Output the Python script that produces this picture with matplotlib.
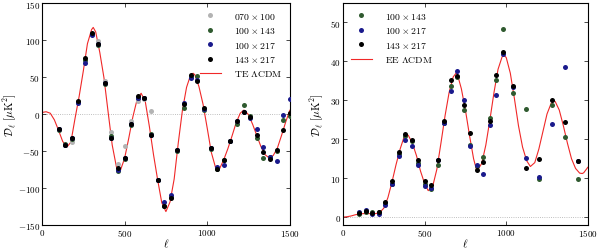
import matplotlib
matplotlib.use("Agg")
import matplotlib.pyplot as plt

plt.rcParams['mathtext.fontset'] = 'cm'
plt.rcParams['font.family'] = 'serif'
plt.rcParams['font.serif'] = ['cmr10', 'DejaVu Serif']
plt.rcParams['axes.formatter.use_mathtext'] = True

# ---------------- TE data ----------------
te_ell = [100, 140, 180, 220, 260, 300, 340, 380, 420, 460, 500, 540, 580, 620, 660, 700,
          740, 780, 820, 860, 900, 940, 980, 1020, 1060, 1100, 1140, 1180, 1220, 1260,
          1300, 1340, 1380, 1420, 1460, 1500]
te_143x217 = [-21, -42, -32, 18, 75, 110, 95, 42, -32, -73, -60, -14, 24, 22, -28, -89,
              -125, -114, -49, 14, 53, 45, 8, -46, -74, -62, -37, -9, 3, -4,
              -29, -52, -61, -49, -22, 1]
te_100x143 = [-22, -41, -34, 16, 73, 108, 93, 41, -30, -77, -61, -15, 22, 21, -27, -89,
              -125, -112, -50, 8, 50, 51, 5, -47, -75, -62, -37, -14, 12, -3,
              -32, -59, -58, -50, -8, -3]
te_100x217 = [-21, -42, -33, 15, 69, 107, 94, 42, -32, -76, -60, -14, 22, 21, -28, -89,
              -119, -110, -49, 15, 48, 46, 7, -46, -72, -69, -36, -10, 3, -5,
              -20, -45, -58, -64, -1, 20]
te_070_ell = [100, 140, 180, 220, 260, 300, 340, 380, 420, 460, 500, 540, 580, 620, 660]
te_070x100 = [-20, -42, -38, 16, 72, 108, 99, 44, -25, -68, -43, -10, 18, 20, 4]

te_model_ell = [0, 25, 50, 75, 100, 125, 150, 175, 200, 225, 250, 275, 300, 310, 325, 350,
                375, 400, 425, 450, 465, 475, 500, 525, 550, 575, 600, 625, 650, 675, 700,
                725, 750, 775, 800, 825, 850, 875, 900, 915, 925, 950, 975, 1000, 1025,
                1050, 1063, 1075, 1100, 1125, 1150, 1175, 1200, 1220, 1225, 1250, 1275,
                1300, 1325, 1350, 1378, 1400, 1425, 1450, 1475, 1500]
te_model = [2, 3, 1, -8, -22, -37, -45, -38, -6, 24, 58, 95, 114, 117, 111, 83,
            49, 3, -42, -71, -78, -76, -60, -33, -4, 19, 28, 17, -17, -55, -89,
            -120, -132, -119, -88, -39, 5, 36, 53, 55, 53, 37, 13, -19, -52,
            -72, -76, -74, -62, -47, -30, -12, 1, 5, 5, -1, -14,
            -29, -44, -55, -60, -56, -46, -29, -11, 5]

# ---------------- EE data ----------------
ee_ell = [100, 140, 180, 220, 260, 300, 340, 380, 420, 460, 500, 540, 580, 620, 660, 700,
          740, 780, 820, 860, 900, 940, 980, 1040, 1120, 1200, 1280, 1360, 1440]
ee_143x217 = [1.1, 1.5, 1.1, 1.2, 3.9, 9.2, 16.7, 21.3, 19.8, 14.7, 9.3, 8.2, 14.7, 24.7,
              35.2, 36.3, 28.9, 21.7, 12.1, 14.1, 24.7, 36.4, 42.3, 33.6, 12.5, 15.0,
              30.2, 24.4, 14.5]
ee_100x143 = [0.9, 1.2, 1.2, 1.4, 3.5, 8.6, 16.2, 20.8, 19.5, 14.0, 8.6, 7.2, 13.3, 24.3,
              33.7, 36.0, 27.6, 18.4, 13.2, 15.5, 25.5, 35.3, 48.2, 32.0, 27.7, 9.7,
              28.9, 20.6, 9.7]
ee_100x217 = [1.4, 1.8, 0.9, 0.8, 3.2, 8.6, 15.6, 19.7, 18.2, 13.5, 8.1, 7.5, 14.6, 24.2,
              32.4, 37.5, 30.1, 18.2, 13.4, 11.0, 23.7, 31.3, 42.0, 33.5, 15.1, 10.3,
              23.8, 38.6, 14.5]

ee_model_ell = [0, 25, 50, 75, 100, 125, 150, 175, 200, 225, 250, 275, 300, 325, 350, 375,
                385, 400, 425, 450, 475, 500, 522, 550, 575, 600, 625, 650, 675, 693, 700,
                725, 750, 775, 800, 819, 825, 850, 875, 900, 925, 950, 975, 988, 1000,
                1025, 1050, 1075, 1100, 1125, 1148, 1175, 1200, 1225, 1250, 1275, 1293,
                1300, 1325, 1350, 1375, 1400, 1425, 1450, 1466, 1475, 1500]
ee_model = [0, 0.1, 0.3, 0.6, 0.8, 0.9, 0.9, 0.9, 0.9, 1.2, 2.3, 5.0, 9.0, 13.5, 17.5, 20.7,
            21.4, 21.0, 19.0, 15.8, 11.8, 8.6, 6.8, 8.0, 12.3, 19.0, 26.0, 32.0, 36.0, 37.0, 36.8,
            33.0, 27.5, 21.0, 15.0, 12.0, 12.1, 13.8, 18.5, 25.0, 32.0, 38.0, 41.2, 41.5, 41.0,
            37.0, 30.5, 23.5, 18.0, 14.5, 13.0, 14.0, 17.5, 22.0, 26.5, 29.2, 29.8,
            29.7, 27.5, 23.5, 19.0, 15.0, 12.5, 11.3, 11.2, 11.4, 12.8]

c_grey = '#b3b3b3'
c_green = '#2f5a2f'
c_blue = '#1a1a8c'
c_black = '#000000'
c_red = '#f02828'
ms = 3.6

fig = plt.figure(figsize=(6.0, 2.51), dpi=100)
ax1 = fig.add_axes([0.070, 0.100, 0.413, 0.884])
ax2 = fig.add_axes([0.5717, 0.100, 0.408, 0.884])

def style(ax):
    ax.tick_params(direction='in', top=True, right=True, labelsize=6.5, length=3, width=0.5, pad=1.5)
    for s in ax.spines.values():
        s.set_linewidth(0.8)

leg_kw = dict(frameon=False, numpoints=1, fontsize=7, handlelength=2.2,
              handletextpad=1.3, borderaxespad=0.4, labelspacing=0.45)

# Left TE panel
ax1.axhline(0, color='#aaaaaa', lw=0.6, ls=':', zorder=1)
ax1.plot(te_070_ell, te_070x100, 'o', color=c_grey, ms=ms, mew=0, label=r'$070\times100$', zorder=3)
ax1.plot(te_ell, te_100x143, 'o', color=c_green, ms=ms, mew=0, label=r'$100\times143$', zorder=3)
ax1.plot(te_ell, te_100x217, 'o', color=c_blue, ms=ms, mew=0, label=r'$100\times217$', zorder=3)
ax1.plot(te_ell, te_143x217, 'o', color=c_black, ms=ms, mew=0, label=r'$143\times217$', zorder=4)
ax1.plot(te_model_ell, te_model, '-', color=c_red, lw=0.8, label=r'$\mathrm{TE}\ \Lambda\mathrm{CDM}$', zorder=2)
ax1.set_xlim(0, 1500)
ax1.set_ylim(-150, 150)
ax1.set_xticks([0, 500, 1000, 1500])
ax1.set_yticks([-150, -100, -50, 0, 50, 100, 150])
ax1.set_xlabel(r'$\ell$', fontsize=8, labelpad=-1)
ax1.set_ylabel(r'$\mathcal{D}_\ell\ [\mu\mathrm{K}^2]$', fontsize=8, labelpad=-1)
style(ax1)
ax1.legend(loc='upper right', **leg_kw)

# Right EE panel
ax2.axhline(0, color='#aaaaaa', lw=0.6, ls=':', zorder=1)
ax2.plot(ee_ell, ee_100x143, 'o', color=c_green, ms=ms, mew=0, label=r'$100\times143$', zorder=3)
ax2.plot(ee_ell, ee_100x217, 'o', color=c_blue, ms=ms, mew=0, label=r'$100\times217$', zorder=3)
ax2.plot(ee_ell, ee_143x217, 'o', color=c_black, ms=ms, mew=0, label=r'$143\times217$', zorder=4)
ax2.plot(ee_model_ell, ee_model, '-', color=c_red, lw=0.8, label=r'$\mathrm{EE}\ \Lambda\mathrm{CDM}$', zorder=2)
ax2.set_xlim(0, 1500)
ax2.set_ylim(-2, 55)
ax2.set_xticks([0, 500, 1000, 1500])
ax2.set_yticks([0, 10, 20, 30, 40, 50])
ax2.set_xlabel(r'$\ell$', fontsize=8, labelpad=-1)
ax2.set_ylabel(r'$\mathcal{D}_\ell\ [\mu\mathrm{K}^2]$', fontsize=8, labelpad=3)
style(ax2)
ax2.legend(loc='upper left', **leg_kw)

fig.savefig('out.png', dpi=100)
